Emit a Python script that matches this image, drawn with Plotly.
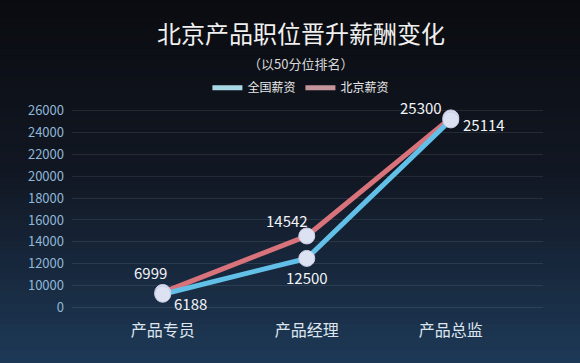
import plotly.graph_objects as go

categories = ["产品专员", "产品经理", "产品总监"]
national = [6188, 12500, 25114]
beijing = [6999, 14542, 25300]
tick_values = [0, 10000, 12000, 14000, 16000, 18000, 20000, 22000, 24000, 26000]
tick_labels = [str(v) for v in tick_values]

FONT = "Noto Sans CJK SC"


def broken(v):
    # axis break: 0-10000 occupies one step, then 2000 per step
    return v / 10000.0 if v <= 10000 else 1 + (v - 10000) / 2000.0


fig = go.Figure()

# background gradient bands
top = (10, 11, 15)
mid = (18, 24, 36)
bot = (30, 58, 88)
n = 60
shapes = []
for i in range(n):
    t = i / (n - 1)
    if t < 0.5:
        a, b, tt = top, mid, t / 0.5
    else:
        a, b, tt = mid, bot, (t - 0.5) / 0.5
    c = tuple(int(a[k] + (b[k] - a[k]) * tt) for k in range(3))
    y1 = 1.0 - i / n
    y0 = 1.0 - (i + 1) / n
    shapes.append(dict(type="rect", xref="paper", yref="paper",
                       x0=-0.2, x1=1.2,
                       y0=-0.3 + y0 * 1.9, y1=-0.3 + y1 * 1.9 + 0.01,
                       fillcolor="rgb(%d,%d,%d)" % c, line=dict(width=0),
                       layer="below"))

# (name, values, line colour, legend colour, label offsets in px)
series = [
    ("北京薪资", beijing, "#d9737b", "#c4959b", [(-12, -20), (-20, -15), (-30, -10)]),
    ("全国薪资", national, "#62c0e8", "#a8d8e6", [(28, 9), (0, 19), (33, 5)]),
]

for name, vals, col, legcol, _ in series:
    fig.add_trace(go.Scatter(x=categories, y=[broken(v) for v in vals], mode="lines",
                             name=name, line=dict(color=col, width=5),
                             showlegend=False, hoverinfo="skip"))

for name, vals, col, legcol, offs in series:
    fig.add_trace(go.Scatter(x=categories, y=[broken(v) for v in vals], mode="markers",
                             marker=dict(color="#dde2f2", size=16,
                                         line=dict(color="#c8cde6", width=1)),
                             showlegend=False, cliponaxis=False, hoverinfo="skip"))
    for c, v, (dx, dy) in zip(categories, vals, offs):
        fig.add_annotation(x=c, y=broken(v), text=str(v), showarrow=False,
                           xshift=dx, yshift=-dy,
                           font=dict(color="#f2f4f8", size=15, family=FONT))

# legend entries (lines only)
for name, vals, col, legcol, _ in series[::-1]:
    fig.add_trace(go.Scatter(x=[None], y=[None], mode="lines", name=name,
                             line=dict(color=legcol, width=5)))

fig.add_annotation(text="北京产品职位晋升薪酬变化", xref="paper", yref="paper",
                   x=0.486, y=1.372, xanchor="center", yanchor="middle", showarrow=False,
                   font=dict(size=24, color="#f0f0f0", family=FONT))
fig.add_annotation(text="（以50分位排名）", xref="paper", yref="paper",
                   x=0.486, y=1.222, xanchor="center", yanchor="middle", showarrow=False,
                   font=dict(size=13, color="#d8d8d8", family=FONT))

fig.update_layout(
    width=580, height=363,
    margin=dict(l=72, r=37, t=108, b=53),
    paper_bgcolor="#10131a", plot_bgcolor="rgba(0,0,0,0)",
    shapes=shapes,
    showlegend=True,
    hovermode=False,
    legend=dict(orientation="h", x=0.486, xanchor="center", y=1.1, yanchor="middle",
                font=dict(size=12, color="#e8e8e8", family=FONT),
                bgcolor="rgba(0,0,0,0)", itemwidth=30, tracegroupgap=0),
    xaxis=dict(range=[-0.63, 2.64], showgrid=False, zeroline=False, showline=False,
               tickfont=dict(size=16, color="#dfe6ef", family=FONT), ticks="",
               ticklabelstandoff=9),
    yaxis=dict(range=[-0.1, 9.1], tickmode="array",
               tickvals=[broken(v) for v in tick_values], ticktext=tick_labels,
               tickfont=dict(size=13, color="#90b8d8", family=FONT),
               gridcolor="rgba(255,255,255,0.09)", gridwidth=1,
               zeroline=False, showline=False, ticks="", ticklabelstandoff=7),
)

fig.write_html("out.html", config={"displayModeBar": False},
               post_script="document.body.style.margin='0';document.body.style.overflow='hidden';")
